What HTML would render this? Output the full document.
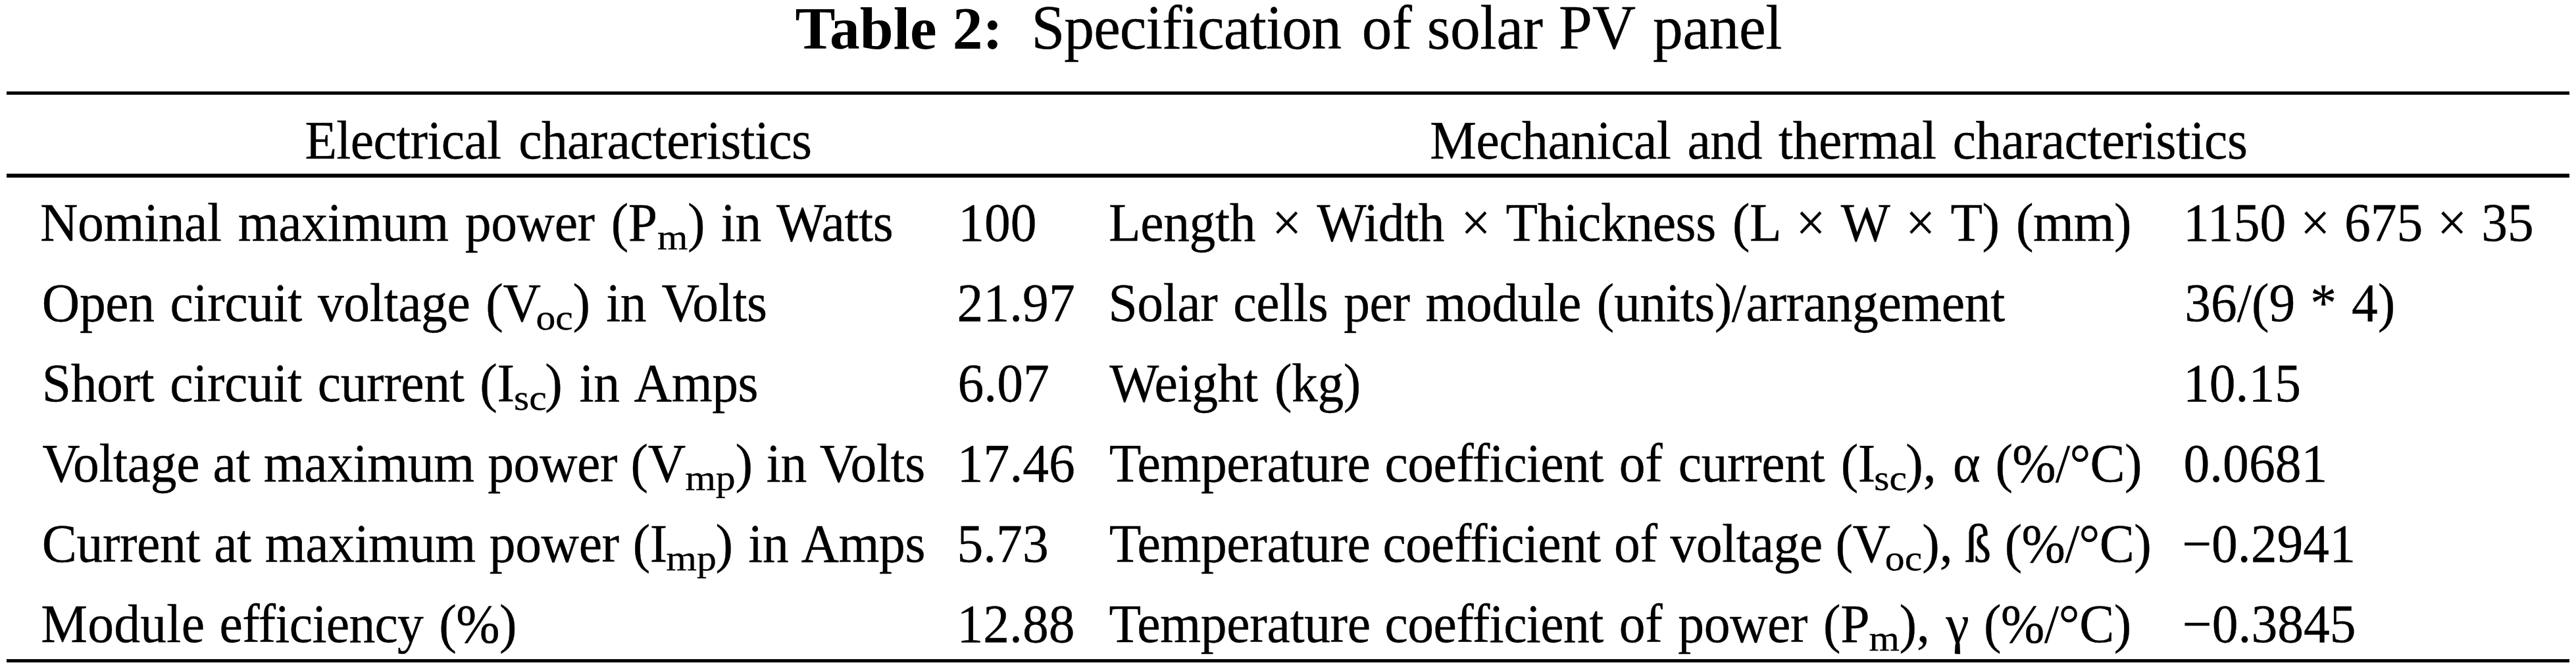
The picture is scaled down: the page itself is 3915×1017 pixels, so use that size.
<!DOCTYPE html>
<html lang="en">
<head>
<meta charset="utf-8">
<title>Table 2: Specification of solar PV panel</title>
<style>
html,body{margin:0;padding:0;background:#fff;}
body{width:3915px;height:1017px;position:relative;overflow:hidden;color:#000;
 font-family:"Liberation Serif","Times New Roman",Times,serif;}
.rule{position:absolute;left:10px;width:3895px;background:#000;}
.c,.h,.t,.tb,.s{position:absolute;white-space:pre;line-height:1;font-size:79.6px;
 transform:scaleY(1.03);transform-origin:0 66px;-webkit-text-stroke:0.35px #000;}
.t,.tb{font-size:91.5px;transform-origin:0 76px;}
.tb{transform:scaleY(0.99);-webkit-text-stroke:0;}
.tb b{font-weight:bold;}
.s{font-size:59.7px;transform:scaleY(0.91);transform-origin:0 49px;vertical-align:baseline;}
</style>
</head>
<body>
<div class="caption"><span class="cell"><span class="tb" style="left:1208.40px;top:-2px;word-spacing:1.10px;"><b>Table 2:</b></span></span>
 <span class="cell"><span class="t" style="left:1567.40px;top:-2px;letter-spacing:-0.933px;">Specification </span><span class="t" style="left:2069.85px;top:-2px;">of </span><span class="t" style="left:2168.80px;top:-2px;letter-spacing:-0.400px;">solar </span><span class="t" style="left:2369.10px;top:-2px;">PV </span><span class="t" style="left:2512.00px;top:-2px;letter-spacing:-0.375px;">panel</span></span></div>
<div class="rule" style="top:139px;height:5px"></div>
<div class="thead"><span class="cell"><span class="h" style="left:463.40px;top:175px;word-spacing:7.56px;letter-spacing:-0.679px;">Electrical characteristics</span></span>
 <span class="cell"><span class="h" style="left:2173.20px;top:175px;word-spacing:5.70px;letter-spacing:-0.500px;">Mechanical and thermal characteristics</span></span></div>
<div class="rule" style="top:264px;height:6px"></div>
<div class="tr"><span class="cell"><span class="c" style="left:61.00px;top:300px;word-spacing:5.53px;letter-spacing:-0.400px;">Nominal maximum power (P</span><sub class="s" style="left:999.00px;top:330px;">m</sub><span class="c" style="left:1045.00px;top:300px;word-spacing:5.15px;letter-spacing:-0.400px;">) in Watts</span></span>
 <span class="cell"><span class="c" style="left:1456.20px;top:300px;">100</span></span>
 <span class="cell"><span class="c" style="left:1685.00px;top:300px;word-spacing:5.68px;letter-spacing:-0.400px;">Length × Width × Thickness (L × W × T) (mm)</span></span>
 <span class="cell"><span class="c" style="left:3318.00px;top:300px;word-spacing:2.05px;">1150 × 675 × 35</span></span></div>
<div class="tr"><span class="cell"><span class="c" style="left:63.80px;top:422px;word-spacing:4.43px;letter-spacing:-0.400px;">Open circuit voltage (V</span><sub class="s" style="left:814.40px;top:452px;">oc</sub><span class="c" style="left:870.40px;top:422px;word-spacing:5.15px;letter-spacing:-0.400px;">) in Volts</span></span>
 <span class="cell"><span class="c" style="left:1454.60px;top:422px;">21.97</span></span>
 <span class="cell"><span class="c" style="left:1684.40px;top:422px;word-spacing:4.45px;letter-spacing:-0.400px;">Solar cells per module (units)/arrangement</span></span>
 <span class="cell"><span class="c" style="left:3320.20px;top:422px;word-spacing:3.05px;">36/(9 * 4)</span></span></div>
<div class="tr"><span class="cell"><span class="c" style="left:63.80px;top:544px;word-spacing:4.50px;letter-spacing:-0.400px;">Short circuit current (I</span><sub class="s" style="left:781.00px;top:574px;">sc</sub><span class="c" style="left:828.20px;top:544px;word-spacing:6.80px;letter-spacing:-0.400px;">) in Amps</span></span>
 <span class="cell"><span class="c" style="left:1455.50px;top:544px;">6.07</span></span>
 <span class="cell"><span class="c" style="left:1686.20px;top:544px;word-spacing:5.70px;letter-spacing:-0.400px;">Weight (kg)</span></span>
 <span class="cell"><span class="c" style="left:3318.00px;top:544px;">10.15</span></span></div>
<div class="tr"><span class="cell"><span class="c" style="left:64.20px;top:666px;word-spacing:1.00px;letter-spacing:-0.400px;">Voltage at maximum power (V</span><sub class="s" style="left:1041.40px;top:696px;">mp</sub><span class="c" style="left:1117.40px;top:666px;word-spacing:1.75px;letter-spacing:-0.400px;">) in Volts</span></span>
 <span class="cell"><span class="c" style="left:1454.80px;top:666px;">17.46</span></span>
 <span class="cell"><span class="c" style="left:1685.80px;top:666px;letter-spacing:-0.390px;">Temperature </span><span class="c" style="left:2104.60px;top:666px;letter-spacing:-0.600px;">coefficient </span><span class="c" style="left:2460.80px;top:666px;word-spacing:4.90px;letter-spacing:-0.400px;">of current (I</span><sub class="s" style="left:2848.20px;top:696px;">sc</sub><span class="c" style="left:2896.20px;top:666px;">), </span><span class="c" style="left:2968.10px;top:666px;">α </span><span class="c" style="left:3032.40px;top:666px;letter-spacing:-0.640px;">(%/°C)</span></span>
 <span class="cell"><span class="c" style="left:3318.40px;top:666px;">0.0681</span></span></div>
<div class="tr"><span class="cell"><span class="c" style="left:63.80px;top:788px;word-spacing:1.52px;letter-spacing:-0.400px;">Current at maximum power (I</span><sub class="s" style="left:1012.60px;top:818px;">mp</sub><span class="c" style="left:1087.60px;top:788px;word-spacing:4.05px;letter-spacing:-0.400px;">) in Amps</span></span>
 <span class="cell"><span class="c" style="left:1454.40px;top:788px;">5.73</span></span>
 <span class="cell"><span class="c" style="left:1685.80px;top:788px;letter-spacing:-0.390px;">Temperature </span><span class="c" style="left:2101.40px;top:788px;letter-spacing:-0.700px;">coefficient </span><span class="c" style="left:2453.00px;top:788px;word-spacing:0.25px;letter-spacing:-0.400px;">of voltage (V</span><sub class="s" style="left:2864.80px;top:818px;">oc</sub><span class="c" style="left:2921.20px;top:788px;">), </span><span class="c" style="left:2986.45px;top:788px;">ß </span><span class="c" style="left:3046.80px;top:788px;letter-spacing:-0.700px;">(%/°C)</span></span>
 <span class="cell"><span class="c" style="left:3316.20px;top:788px;">−0.2941</span></span></div>
<div class="tr"><span class="cell"><span class="c" style="left:62.20px;top:910px;letter-spacing:0.240px;">Module </span><span class="c" style="left:333.60px;top:910px;letter-spacing:-0.711px;">efficiency </span><span class="c" style="left:667.20px;top:910px;letter-spacing:-0.550px;">(%)</span></span>
 <span class="cell"><span class="c" style="left:1454.40px;top:910px;">12.88</span></span>
 <span class="cell"><span class="c" style="left:1685.60px;top:910px;letter-spacing:-0.350px;">Temperature </span><span class="c" style="left:2104.60px;top:910px;letter-spacing:-0.600px;">coefficient </span><span class="c" style="left:2460.80px;top:910px;word-spacing:4.45px;letter-spacing:-0.400px;">of power (P</span><sub class="s" style="left:2840.60px;top:940px;">m</sub><span class="c" style="left:2886.40px;top:910px;">), </span><span class="c" style="left:2957.60px;top:910px;">γ </span><span class="c" style="left:3015.00px;top:910px;letter-spacing:-0.400px;">(%/°C)</span></span>
 <span class="cell"><span class="c" style="left:3316.85px;top:910px;">−0.3845</span></span></div>
<div class="rule" style="top:1002px;height:5px"></div>
</body>
</html>
